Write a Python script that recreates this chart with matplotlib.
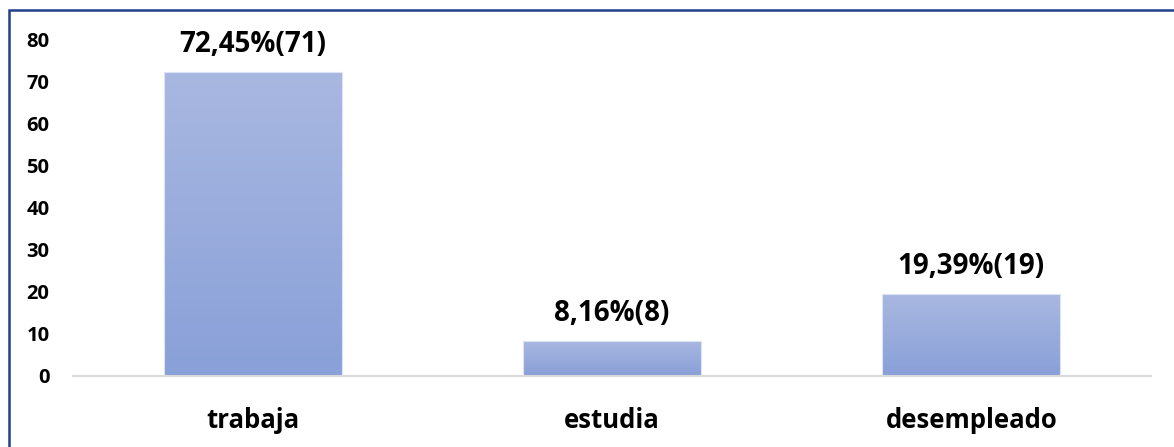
import matplotlib
matplotlib.use("Agg")
import matplotlib.pyplot as plt
import numpy as np
from matplotlib.colors import LinearSegmentedColormap
from matplotlib.patches import Rectangle

categories = ["trabaja", "estudia", "desempleado"]
values = [72.45, 8.16, 19.39]
labels = ["72,45%(71)", "8,16%(8)", "19,39%(19)"]
yticks = [0, 10, 20, 30, 40, 50, 60, 70, 80]

W, H = 1174, 447
fig = plt.figure(figsize=(W / 100, H / 100), dpi=100)
fig.patch.set_facecolor("white")

# outer border (only top and left visible in the reference)
fig.patches.append(Rectangle((9 / W, -0.1), 1.2, (H - 10) / H + 0.1,
                             transform=fig.transFigure, fill=False,
                             edgecolor="#203F8C", linewidth=1.8, zorder=0))

ax = fig.add_axes([73 / W, 71.5 / H, (1151 - 73) / W, (375.5 - 40) / H])

font = "Open Sans"
cmap = LinearSegmentedColormap.from_list("g", ["#89A0D8", "#A9B8E1"])
grad = np.linspace(0, 1, 256).reshape(-1, 1)

x = np.arange(len(categories))
bars = ax.bar(x, values, width=0.495, color="none", edgecolor="#DCE3F5",
              linewidth=0.8, zorder=3)
for b in bars:
    x0, y0 = b.get_x(), b.get_y()
    w, h = b.get_width(), b.get_height()
    im = ax.imshow(grad, cmap=cmap, origin="lower", aspect="auto",
                   extent=(x0, x0 + w, y0, y0 + h), zorder=2)
    im.set_clip_path(b)
ax.set_xlim(-0.5, len(categories) - 0.5)
ax.set_ylim(0, 80)

for xi, v, lab in zip(x, values, labels):
    ax.annotate(lab, (xi, v), xytext=(0, 14.5), textcoords="offset points",
                ha="center", va="baseline", fontsize=20, fontweight="bold",
                family=font, color="black", annotation_clip=False)

for s in ["top", "right", "left"]:
    ax.spines[s].set_visible(False)
ax.spines["bottom"].set_color("#D9D9D9")
ax.spines["bottom"].set_linewidth(1.5)

ax.set_xticks(x)
ax.set_xticklabels(categories, fontsize=18.5, fontweight="bold", family=font)
ax.set_yticks(yticks)
ax.set_yticklabels([str(t) for t in yticks], fontsize=14.5, fontweight="bold",
                   family=font)
ax.tick_params(axis="both", length=0)
ax.tick_params(axis="x", pad=23)
ax.tick_params(axis="y", pad=17)

fig.savefig("out.png", dpi=100, facecolor="white")
